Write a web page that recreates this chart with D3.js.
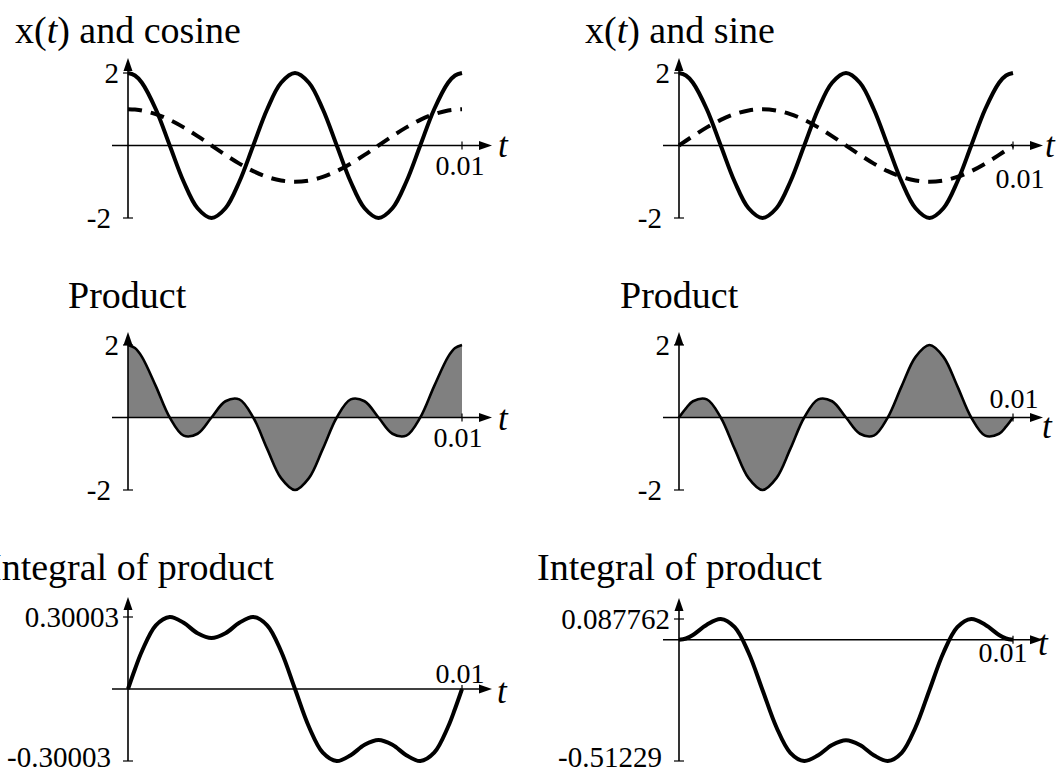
<!DOCTYPE html>
<html>
<head>
<meta charset="utf-8">
<script src="https://cdn.jsdelivr.net/npm/d3@7"></script>
<style>
  html, body { margin: 0; background: #fff; }
  svg { display: block; font-family: "Liberation Serif", "Times New Roman", serif; }
</style>
</head>
<body>
<svg id="chart" width="1061" height="775"></svg>
<script>
// sample times (s) and the curves at those times
const tGrid = [0, 0.000208, 0.000417, 0.000833, 0.00125, 0.001667, 0.002083, 0.0025, 0.002917, 0.003333, 0.00375, 0.004167, 0.004583,
  0.005, 0.005417, 0.005833, 0.00625, 0.006667, 0.007083, 0.0075, 0.007917, 0.008333, 0.00875, 0.009167, 0.009583, 0.009792, 0.01];
const xSignal = [2, 1.932, 1.732, 1, 0, -1, -1.732, -2, -1.732, -1, 0, 1, 1.732, 2, 1.732, 1, 0, -1, -1.732, -2, -1.732, -1, 0, 1, 1.732, 1.932, 2];
const cosRef = [1, 0.991, 0.966, 0.866, 0.707, 0.5, 0.259, 0, -0.259, -0.5, -0.707, -0.866, -0.966, -1, -0.966, -0.866, -0.707, -0.5, -0.259, 0, 0.259, 0.5, 0.707, 0.866, 0.966, 0.991, 1];
const sinRef = [0, 0.131, 0.259, 0.5, 0.707, 0.866, 0.966, 1, 0.966, 0.866, 0.707, 0.5, 0.259, 0, -0.259, -0.5, -0.707, -0.866, -0.966, -1, -0.966, -0.866, -0.707, -0.5, -0.259, -0.131, 0];
const prodCos = [2, 1.915, 1.673, 0.866, 0, -0.5, -0.448, 0, 0.448, 0.5, 0, -0.866, -1.673, -2, -1.673, -0.866, 0, 0.5, 0.448, 0, -0.448, -0.5, 0, 0.866, 1.673, 1.915, 2];
const prodSin = [0, 0.252, 0.448, 0.5, 0, -0.866, -1.673, -2, -1.673, -0.866, 0, 0.5, 0.448, 0, -0.448, -0.5, 0, 0.866, 1.673, 2, 1.673, 0.866, 0, -0.5, -0.448, -0.252, 0];
const intCos = [0, 0.0822, 0.1574, 0.2653, 0.3001, 0.2757, 0.2324, 0.2122, 0.2324, 0.2757, 0.3001, 0.2653, 0.1574, 0,
  -0.1574, -0.2653, -0.3001, -0.2757, -0.2324, -0.2122, -0.2324, -0.2757, -0.3001, -0.2653, -0.1574, -0.0822, 0];
const intSin = [0, 0.0053, 0.0202, 0.0634, 0.0879, 0.0531, -0.0548, -0.2122, -0.3696, -0.4775, -0.5123, -0.4879, -0.4446, -0.4244,
  -0.4446, -0.4879, -0.5123, -0.4775, -0.3696, -0.2122, -0.0548, 0.0531, 0.0879, 0.0634, 0.0202, 0.0053, 0];

// y tick values / labels
const ticksSignal = [-2, 2];
const ticksIntCos = [-0.30003, 0.30003];
const ticksIntSin = [-0.51229, 0.087762];
const tEnd = 0.01;

const svg = d3.select("#chart");
const curve = d3.curveCatmullRom;

const panels = [
  { left: 128, top: 73, bottom: 218, tip: 58, domain: [-2, 2], ticks: ticksSignal, title: ["x(", "t", ") and cosine"], tx: 15, ty: 43,
    solid: xSignal, dashed: cosRef, endLbl: [460, 175], tLbl: [498, 157] },
  { left: 679, top: 73, bottom: 218, tip: 58, domain: [-2, 2], ticks: ticksSignal, title: ["x(", "t", ") and sine"], tx: 585, ty: 43,
    solid: xSignal, dashed: sinRef, endLbl: [1020, 188], tLbl: [1045, 157] },
  { left: 128, top: 345, bottom: 490, tip: 332, domain: [-2, 2], ticks: ticksSignal, title: ["Product"], tx: 68, ty: 308,
    fill: prodCos, endLbl: [458, 447], tLbl: [498, 430] },
  { left: 679, top: 345, bottom: 490, tip: 332, domain: [-2, 2], ticks: ticksSignal, title: ["Product"], tx: 620, ty: 308,
    fill: prodSin, endLbl: [1014, 408], tLbl: [1042, 438] },
  { left: 128, top: 617, bottom: 761, tip: 597, domain: ticksIntCos, ticks: ticksIntCos, title: ["Integral of product"], tx: -11, ty: 580,
    solid: intCos, endLbl: [460, 683], tLbl: [497, 703] },
  { left: 679, top: 619, bottom: 761, tip: 598, domain: ticksIntSin, ticks: ticksIntSin, title: ["Integral of product"], tx: 537, ty: 580,
    solid: intSin, endLbl: [1003, 662], tLbl: [1038, 655] }
];

function drawPanel(p) {
  const x = d3.scaleLinear().domain([0, tEnd]).range([p.left, p.left + 334]);
  const y = d3.scaleLinear().domain(p.domain).range([p.bottom, p.top]);
  const g = svg.append("g");
  const y0 = y(0);

  if (p.fill) {
    const area = d3.area().x((d, i) => x(tGrid[i])).y0(y0).y1(d => y(d)).curve(curve);
    g.append("path").datum(p.fill).attr("d", area).attr("fill", "#808080");
  }

  // x axis with arrow
  const xTip = p.left + 364;
  g.append("line").attr("x1", p.left - 16).attr("x2", xTip - 8).attr("y1", y0).attr("y2", y0)
    .attr("stroke", "#000").attr("stroke-width", 1.6);
  g.append("path").attr("d", `M${xTip},${y0}L${xTip - 13},${y0 - 4.5}L${xTip - 13},${y0 + 4.5}Z`).attr("fill", "#000");
  g.append("line").attr("x1", x(tEnd)).attr("x2", x(tEnd)).attr("y1", y0 - 4).attr("y2", y0 + 4)
    .attr("stroke", "#000").attr("stroke-width", 1.2);

  // y axis with arrow
  g.append("line").attr("x1", p.left).attr("x2", p.left).attr("y1", y(p.domain[0])).attr("y2", p.tip + 8)
    .attr("stroke", "#000").attr("stroke-width", 1.6);
  g.append("path").attr("d", `M${p.left},${p.tip}L${p.left - 4.5},${p.tip + 13}L${p.left + 4.5},${p.tip + 13}Z`).attr("fill", "#000");

  p.ticks.forEach(v => {
    g.append("line").attr("x1", p.left - 5).attr("x2", p.left + 5).attr("y1", y(v)).attr("y2", y(v))
      .attr("stroke", "#000").attr("stroke-width", 1.2);
    g.append("text").attr("x", p.left - (v < 0 ? 17 : 9)).attr("y", Math.min(y(v) + 10, 767))
      .attr("text-anchor", "end").style("font-size", "29px").text(v);
  });

  g.append("text").attr("x", p.endLbl[0]).attr("y", p.endLbl[1]).attr("text-anchor", "middle")
    .style("font-size", "28px").text(tEnd);
  g.append("text").attr("x", p.tLbl[0]).attr("y", p.tLbl[1]).style("font-size", "35px")
    .style("font-style", "italic").text("t");

  const title = g.append("text").attr("x", p.tx).attr("y", p.ty).style("font-size", "38px");
  p.title.forEach((s, i) => title.append("tspan").style("font-style", i === 1 ? "italic" : "normal").text(s));

  const line = d3.line().x((d, i) => x(tGrid[i])).y(d => y(d)).curve(curve);
  if (p.dashed) {
    g.append("path").datum(p.dashed).attr("d", line).attr("fill", "none").attr("stroke", "#000")
      .attr("stroke-width", 4).attr("stroke-dasharray", "14,9");
  }
  if (p.solid) {
    g.append("path").datum(p.solid).attr("d", line).attr("fill", "none").attr("stroke", "#000")
      .attr("stroke-width", 4).attr("stroke-linejoin", "round");
  }
  if (p.fill) {
    g.append("path").datum(p.fill).attr("d", line).attr("fill", "none").attr("stroke", "#000")
      .attr("stroke-width", 2.6);
  }
}

panels.forEach(drawPanel);
</script>
</body>
</html>
